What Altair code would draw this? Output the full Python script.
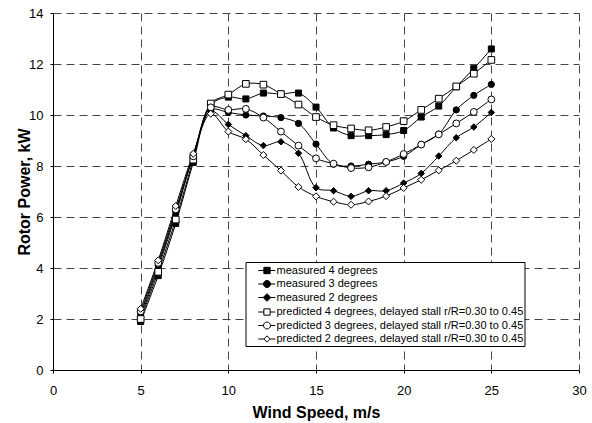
import altair as alt
import pandas as pd

wind = [5, 6, 7, 8, 9, 10, 11, 12, 13, 14, 15, 16, 17, 18, 19, 20, 21, 22, 23, 24, 25]

meas4 = [1.9, 3.7, 5.75, 8.14, 10.4, 10.7, 10.63, 10.86, 10.82, 10.86, 10.31, 9.49, 9.19, 9.19, 9.23, 9.39, 9.92, 10.35, 11.11, 11.82, 12.59]
meas3 = [2.2, 4.1, 6.2, 8.44, 10.2, 10.1, 10.0, 9.96, 9.9, 9.67, 8.86, 8.07, 8.0, 8.07, 8.16, 8.38, 8.84, 9.25, 10.2, 10.77, 11.2]
meas2 = [2.1, 4.0, 6.1, 8.4, 10.15, 9.63, 9.19, 8.8, 8.95, 8.5, 7.15, 7.03, 6.81, 7.03, 7.03, 7.33, 7.71, 8.39, 9.11, 9.53, 10.1]
pred4 = [2.0, 3.85, 5.9, 8.25, 10.45, 10.8, 11.22, 11.19, 10.82, 10.41, 9.92, 9.6, 9.47, 9.4, 9.53, 9.76, 10.2, 10.64, 11.12, 11.62, 12.16]
pred3 = [2.3, 4.2, 6.3, 8.38, 10.3, 10.2, 10.24, 9.9, 9.35, 8.8, 8.3, 8.09, 7.92, 7.95, 8.16, 8.47, 8.84, 9.24, 9.67, 10.12, 10.61]
pred2 = [2.4, 4.3, 6.43, 8.48, 10.05, 9.35, 9.05, 8.43, 7.82, 7.18, 6.81, 6.6, 6.48, 6.61, 6.82, 7.14, 7.46, 7.83, 8.21, 8.63, 9.06]

series_names = [
    "measured 4 degrees",
    "measured 3 degrees",
    "measured 2 degrees",
    "predicted 4 degrees, delayed stall r/R=0.30 to 0.45",
    "predicted 3 degrees, delayed stall r/R=0.30 to 0.45",
    "predicted 2 degrees, delayed stall r/R=0.30 to 0.45",
]
series_values = [meas4, meas3, meas2, pred4, pred3, pred2]

x_ticks = [0, 5, 10, 15, 20, 25, 30]
y_ticks = [0, 2, 4, 6, 8, 10, 12, 14]

rows = []
for name, vals in zip(series_names, series_values):
    for w, v in zip(wind, vals):
        rows.append({"series": name, "wind": w, "power": v})
df = pd.DataFrame(rows)

FONT = "Liberation Sans"

x_enc = alt.X("wind:Q", scale=alt.Scale(domain=[0, 30], nice=False),
              axis=alt.Axis(values=x_ticks, title="Wind Speed, m/s", format="d",
                            labelPadding=11, titlePadding=7, labelFlush=False))
y_enc = alt.Y("power:Q", scale=alt.Scale(domain=[0, 14], nice=False),
              axis=alt.Axis(values=y_ticks, title="Rotor Power, kW", format="d",
                            labelPadding=7, titlePadding=-4, labelFlush=False))

base = alt.Chart(df)

lines = base.mark_line(color="black", strokeWidth=1, interpolate="catmull-rom").encode(
    x=x_enc, y=y_enc, detail="series:N"
)

points = base.mark_point(filled=True, stroke="black", strokeWidth=1, opacity=1).encode(
    x=x_enc,
    y=y_enc,
    shape=alt.Shape("series:N", scale=alt.Scale(domain=series_names,
                    range=["square", "circle", "diamond", "square", "circle", "diamond"]), legend=None),
    fill=alt.Fill("series:N", scale=alt.Scale(domain=series_names,
                  range=["black", "black", "black", "white", "white", "white"]), legend=None),
    size=alt.Size("series:N", scale=alt.Scale(domain=series_names,
                  range=[36, 50, 40, 48, 52, 30]), legend=None),
)

sq = "M-2.857,0M-1.243,0H-0.45M0.45,0H1.186M-0.45,-0.45H0.45V0.45H-0.45Z"
ci = "M-2.857,0M-1.243,0H-0.5M0.5,0H1.186M-0.5,0A0.5,0.5,0,1,1,0.5,0A0.5,0.5,0,1,1,-0.5,0Z"
di = "M-2.857,0M-1.243,0H-0.55M0.55,0H1.186M-0.55,0L0,-0.55L0.55,0L0,0.55Z"
di2 = "M-2.857,0M-1.243,0H-0.45M0.45,0H1.186M-0.45,0L0,-0.45L0.45,0L0,0.45Z"

legend = alt.Legend(
    orient="none", legendX=192.5, legendY=249, title=None,
    fillColor="white", strokeColor="black", cornerRadius=0,
    padding=1, symbolSize=196, symbolOffset=13, labelOffset=2,
    labelFont=FONT, labelFontSize=11, labelColor="black", labelLimit=400,
    symbolStrokeWidth=1, symbolOpacity=1,
    rowPadding=0.5,
    labelExpr="datum.label + '\u00a0\u00a0\u00a0\u00a0\u00a0\u00a0'",
)

legend_layer = base.mark_point(filled=True, strokeWidth=1, size=0, opacity=1).encode(
    x=x_enc,
    y=y_enc,
    shape=alt.Shape("series:N", scale=alt.Scale(domain=series_names,
                    range=[sq, ci, di, sq, ci, di2]), legend=legend),
    fill=alt.Fill("series:N", scale=alt.Scale(domain=series_names,
                  range=["black", "black", "black", "white", "white", "white"]), legend=legend),
    stroke=alt.Stroke("series:N", scale=alt.Scale(domain=series_names,
                      range=["black"] * 6), legend=legend),
)

chart = alt.layer(lines, points, legend_layer).resolve_scale(
    shape="independent", fill="independent", size="independent", stroke="independent"
).properties(
    width=526, height=357,
    padding={"left": 53, "top": 13, "right": 13, "bottom": 53},
    autosize=alt.AutoSizeParams(type="none"),
    background="white",
).configure_view(stroke=None).configure_axis(
    labelFont=FONT, labelFontSize=13, labelColor="black",
    titleFont=FONT, titleFontSize=16, titleFontWeight="bold", titleColor="black",
    domainColor="black", domainWidth=1, tickColor="black", tickSize=3,
    grid=True, gridColor="#444444", gridDash=[8, 5], gridWidth=1,
)

chart.save("out.html", embed_options={"renderer": "svg", "actions": False})
